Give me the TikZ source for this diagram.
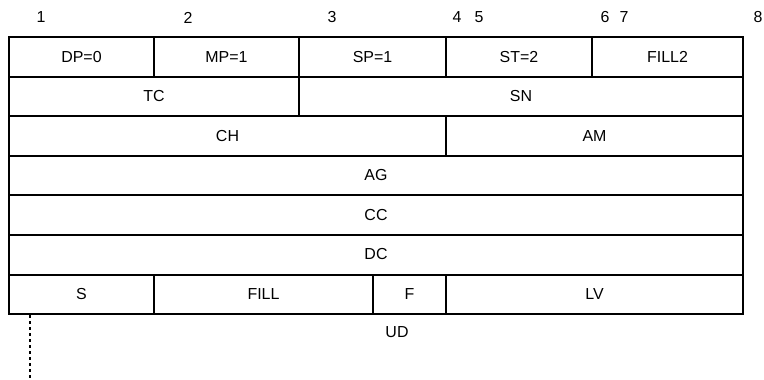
\documentclass[tikz,border=0pt]{standalone}
\usepackage{fontspec}
\setmainfont{Liberation Sans}
\begin{document}
\begin{tikzpicture}[x=1bp,y=-1bp,
  cell/.style={draw=black,line width=2bp,inner sep=0pt,font=\fontsize{16}{18}\selectfont,anchor=center},
  lbl/.style={inner sep=0pt,font=\fontsize{16}{18}\selectfont},
  dotline/.style={line width=2bp,dash pattern=on 3bp off 3bp}]
\useasboundingbox (0,0) rectangle (764,379);
\newcommand{\cellbox}[6]{% name, x1, y1, x2, y2, text
  \node[cell,minimum width={(#4-#2)*1bp},minimum height={(#5-#3)*1bp}] (#1) at ({(#2+#4)/2},{(#3+#5)/2}) {#6};}
% octet numbers
\node[lbl] (n1) at (41,17.5) {1};
\node[lbl] (n2) at (188,17.5) {2};
\node[lbl] (n3) at (332,17.5) {3};
\node[lbl] (n4) at (457,17.5) {4};
\node[lbl] (n5) at (479,17.5) {5};
\node[lbl] (n6) at (605,17.5) {6};
\node[lbl] (n7) at (624,17.5) {7};
\node[lbl] (n8) at (758,17.5) {8};
% row 1
\cellbox{dp}{9}{37}{154}{76.5}{DP=0}
\cellbox{mp}{154}{37}{299}{76.5}{MP=1}
\cellbox{sp}{299}{37}{446}{76.5}{SP=1}
\cellbox{st}{446}{37}{592}{76.5}{ST=2}
\cellbox{fill2}{592}{37}{743}{76.5}{FILL2}
% row 2
\cellbox{tc}{9}{76.5}{299}{116}{TC}
\cellbox{sn}{299}{76.5}{743}{116}{SN}
% row 3
\cellbox{ch}{9}{116}{446}{155.5}{CH}
\cellbox{am}{446}{116}{743}{155.5}{AM}
% rows 4-6
\cellbox{ag}{9}{155.5}{743}{195}{AG}
\cellbox{cc}{9}{195}{743}{234.5}{CC}
\cellbox{dc}{9}{234.5}{743}{274.5}{DC}
% row 7
\cellbox{s}{9}{274.5}{154}{314}{S}
\cellbox{fill}{154}{274.5}{373}{314}{FILL}
\cellbox{f}{373}{274.5}{446}{314}{F}
\cellbox{lv}{446}{274.5}{743}{314}{LV}
% below
\node[lbl] (ud) at (397,332) {UD};
\coordinate (d1) at (30,315);
\coordinate (d2) at (30,379);
\draw[dotline] (d1) -- (d2);
\end{tikzpicture}
\end{document}
